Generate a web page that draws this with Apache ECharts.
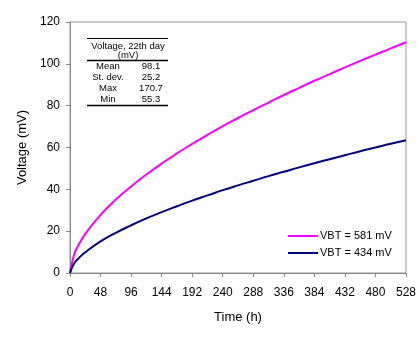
<!DOCTYPE html>
<html>
<head>
<meta charset="utf-8">
<script src="https://cdn.jsdelivr.net/npm/echarts@6/dist/echarts.min.js"></script>
<style>html,body{margin:0;padding:0;background:#fff;}#c{width:420px;height:343px;}</style>
</head>
<body>
<div id="c"></div>
<script>
var hours = [0, 6, 12, 24, 48, 72, 96, 120, 144, 168, 192, 216, 240, 264, 288, 312, 336, 360, 384, 408, 432, 456, 480, 504, 528];
var vbt581 = [0, 8.4, 12.6, 18.7, 27.8, 35.1, 41.4, 47.1, 52.3, 57.2, 61.7, 66.0, 70.2, 74.1, 77.9, 81.5, 85.1, 88.5, 91.9, 95.1, 98.3, 101.4, 104.4, 107.4, 110.3];
var vbt434 = [0, 4.3, 6.6, 9.9, 15.1, 19.2, 22.8, 26.1, 29.1, 31.9, 34.6, 37.1, 39.6, 41.9, 44.1, 46.3, 48.4, 50.5, 52.5, 54.4, 56.3, 58.2, 60.0, 61.8, 63.5];
var seriesNames = ['VBT = 581 mV', 'VBT = 434 mV'];
var tableTitle = ['Voltage, 22th day', '(mV)'];
var statLabels = ['Mean', 'St. dev.', 'Max', 'Min'];
var statValues = ['98.1', '25.2', '170.7', '55.3'];

function pairs(xs, ys) { return xs.map(function (x, i) { return [x, ys[i]]; }); }

var font = 'Liberation Sans, Arial, sans-serif';
var chart = echarts.init(document.getElementById('c'), null, {renderer: 'canvas'});

var graphics = [];
var tblL = 87, tblR = 168, labC = 108, valC = 151, titleC = 128;
graphics.push({type: 'line', shape: {x1: tblL, y1: 38.5, x2: tblR, y2: 38.5}, style: {stroke: '#000', lineWidth: 1}});
graphics.push({type: 'line', shape: {x1: tblL, y1: 60.5, x2: tblR, y2: 60.5}, style: {stroke: '#000', lineWidth: 1.5}});
graphics.push({type: 'line', shape: {x1: tblL, y1: 105.5, x2: tblR, y2: 105.5}, style: {stroke: '#000', lineWidth: 1.5}});
tableTitle.forEach(function (t, i) {
  graphics.push({type: 'text', x: titleC, y: 46 + i * 9.5, style: {text: t, font: '9.5px ' + font, fill: '#000', align: 'center', verticalAlign: 'middle'}});
});
statLabels.forEach(function (t, i) {
  graphics.push({type: 'text', x: labC, y: 66 + i * 11, style: {text: t, font: '9.5px ' + font, fill: '#000', align: 'center', verticalAlign: 'middle'}});
  graphics.push({type: 'text', x: valC, y: 66 + i * 11, style: {text: statValues[i], font: '9.5px ' + font, fill: '#000', align: 'center', verticalAlign: 'middle'}});
});

chart.setOption({
  animation: false,
  backgroundColor: '#fff',
  grid: {left: 70, right: 14, top: 22, bottom: 70, show: true, borderColor: '#999', borderWidth: 1, backgroundColor: 'transparent'},
  xAxis: {
    type: 'value', min: 0, max: 528, interval: 48,
    name: 'Time (h)', nameLocation: 'middle', nameGap: 38,
    nameTextStyle: {fontFamily: font, fontSize: 13, color: '#000'},
    axisLine: {show: true, lineStyle: {color: '#888'}},
    axisTick: {show: true, length: 4, lineStyle: {color: '#888'}},
    axisLabel: {fontFamily: font, fontSize: 12, color: '#000', margin: 14},
    splitLine: {show: false}
  },
  yAxis: {
    type: 'value', min: 0, max: 120, interval: 20,
    name: 'Voltage (mV)', nameLocation: 'middle', nameGap: 34,
    nameTextStyle: {fontFamily: font, fontSize: 13, color: '#000'},
    axisLine: {show: true, lineStyle: {color: '#888'}},
    axisTick: {show: true, length: 4, lineStyle: {color: '#888'}},
    axisLabel: {fontFamily: font, fontSize: 12, color: '#000', margin: 10},
    splitLine: {show: false}
  },
  legend: {
    orient: 'vertical', left: 288, top: 229, padding: 0,
    icon: 'rect', itemWidth: 30, itemHeight: 2, itemGap: 3,
    textStyle: {fontFamily: font, fontSize: 11, color: '#000', lineHeight: 14, padding: [0, 0, 0, -3]},
    data: seriesNames
  },
  series: [
    {name: seriesNames[0], type: 'line', data: pairs(hours, vbt581), symbol: 'none', smooth: true, color: '#ff00ff', lineStyle: {width: 2, color: '#ff00ff'}},
    {name: seriesNames[1], type: 'line', data: pairs(hours, vbt434), symbol: 'none', smooth: true, color: '#000080', lineStyle: {width: 2, color: '#000080'}}
  ],
  graphic: graphics
});
</script>
</body>
</html>
